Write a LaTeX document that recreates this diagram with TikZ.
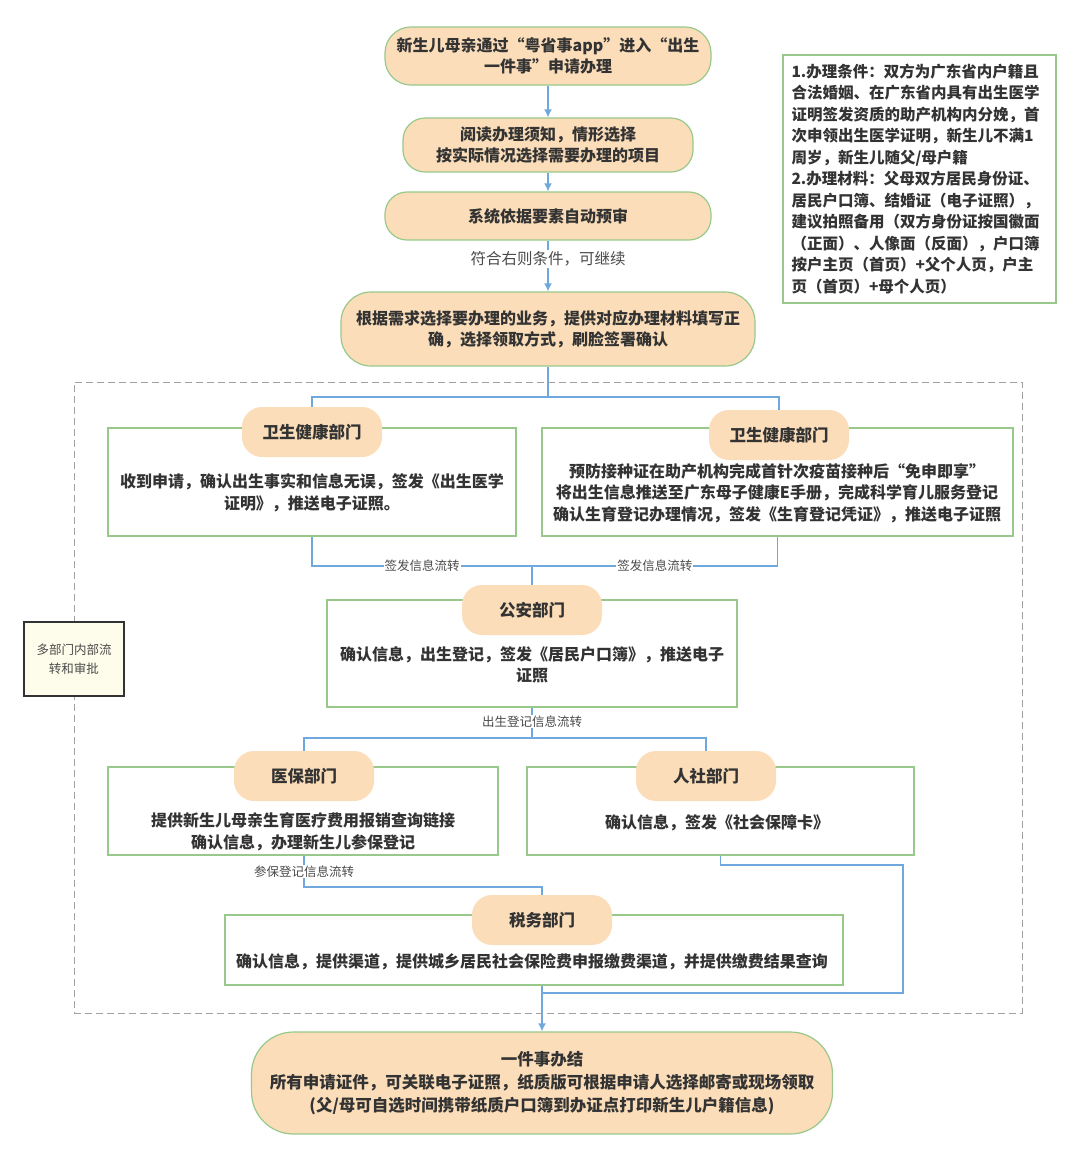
\documentclass[tikz,border=0pt]{standalone}
\usepackage{fontspec}
\setmainfont{Noto Sans CJK SC}
\usepackage{xcolor}
\usepackage{tikz}
\usetikzlibrary{arrows.meta}
\usetikzlibrary{positioning}
\pgfdeclarelayer{bg}
\pgfsetlayers{bg,main}

\definecolor{peach}{HTML}{FBDDB9}
\definecolor{boxgreen}{HTML}{98C98A}
\definecolor{flowblue}{HTML}{6FA8DC}
\definecolor{dashgray}{HTML}{A0A0A0}
\definecolor{txtgray}{HTML}{333333}
\definecolor{lblgray}{HTML}{4A4A4A}
\definecolor{sidecream}{HTML}{FEFDEB}

\tikzset{
	stepbox/.style={draw=boxgreen, line width=1.2pt, fill=peach, rounded corners=22pt, align=center, inner sep=0pt, text=txtgray, font=\bfseries\fontsize{16}{21}\selectfont},
	deptbox/.style={draw=boxgreen, line width=1.5pt, fill=white, inner sep=0pt},
	depttext/.style={align=center, inner sep=0pt, text=txtgray, font=\bfseries\fontsize{16}{21.5}\selectfont},
	pill/.style={fill=peach, rounded corners=20pt, minimum width=140pt, minimum height=50pt, inner sep=0pt, text=txtgray, font=\bfseries\fontsize{16.5}{20}\selectfont},
	flow/.style={draw=flowblue, line width=1.5pt, -{Latex[length=8pt,width=8pt]}},
	link/.style={draw=flowblue, line width=1.5pt},
	flowlbl/.style={fill=white, inner sep=1pt, text=lblgray, font=\fontsize{12.5}{14}\selectfont}
}

\begin{document}
\begin{tikzpicture}[x=1pt, y=-1pt]
	\useasboundingbox (0,0) rectangle (1080,1160);

	% application steps
	\node[stepbox, minimum width=326pt, minimum height=58pt, rounded corners=26pt] (apply) at (548,56) {新生儿母亲通过“粤省事app”进入“出生\\一件事”申请办理};
	\node[stepbox, minimum width=290pt, minimum height=54pt] (notice) at (548,145) {阅读办理须知，情形选择\\按实际情况选择需要办理的项目};
	\node[stepbox, minimum width=326pt, minimum height=48pt] (precheck) at (548,216) {系统依据要素自动预审};
	\node[stepbox, minimum width=414pt, minimum height=74pt, rounded corners=30pt] (choose) at (548,329) {根据需求选择要办理的业务，提供对应办理材料填写正\\确，选择领取方式，刷脸签署确认};

	% conditions
	\node[draw=boxgreen, line width=1.5pt, fill=white, minimum width=273pt, minimum height=248pt, text width=256pt, align=left, inner sep=0pt, text=txtgray, font=\bfseries\fontsize{15.5}{21.5}\selectfont] (cond) at (919.5,179) {1.办理条件：双方为广东省内户籍且\\合法婚姻、在广东省内具有出生医学\\证明签发资质的助产机构内分娩，首\\次申领出生医学证明，新生儿不满1\\周岁，新生儿随父/母户籍\\2.办理材料：父母双方居民身份证、\\居民户口簿、结婚证（电子证照），\\建议拍照备用（双方身份证按国徽面\\（正面）、人像面（反面），户口簿\\按户主页（首页）+父个人页，户主\\页（首页）+母个人页）};

	% departments
	\node[draw=dashgray, dash pattern=on 7pt off 4pt, line width=1pt, minimum width=948pt, minimum height=631pt, inner sep=0pt] (grp) at (548,697.5) {};
	\node[draw=txtgray, line width=1.5pt, fill=sidecream, minimum width=100pt, minimum height=74pt, align=center, inner sep=0pt, text=lblgray, font=\fontsize{12.5}{19}\selectfont] (inner) at (74,659) {多部门内部流\\转和审批};

	\node[deptbox, minimum width=408pt, minimum height=108pt] (wj1) at (312,482) {};
	\node[deptbox, minimum width=471pt, minimum height=108pt] (wj2) at (777.5,482) {};
	\node[deptbox, minimum width=410pt, minimum height=107pt] (ga) at (532,653.5) {};
	\node[deptbox, minimum width=390pt, minimum height=88pt] (yb) at (303,811) {};
	\node[deptbox, minimum width=387pt, minimum height=88pt] (rs) at (720.5,811) {};
	\node[deptbox, minimum width=618pt, minimum height=70pt] (sw) at (534,950) {};

	\node[depttext] (wj1txt) at (312,493) {收到申请，确认出生事实和信息无误，签发《出生医学\\证明》，推送电子证照。};
	\node[depttext] (wj2txt) at (777,493) {预防接种证在助产机构完成首针次疫苗接种后“免申即享”\\将出生信息推送至广东母子健康E手册，完成科学育儿服务登记\\确认生育登记办理情况，签发《生育登记凭证》，推送电子证照};
	\node[depttext] (gatxt) at (532,665) {确认信息，出生登记，签发《居民户口簿》，推送电子\\证照};
	\node[depttext] (ybtxt) at (303,832) {提供新生儿母亲生育医疗费用报销查询链接\\确认信息，办理新生儿参保登记};
	\node[depttext] (rstxt) at (717,823) {确认信息，签发《社会保障卡》};
	\node[depttext] (swtxt) at (532,962) {确认信息，提供渠道，提供城乡居民社会保险费申报缴费渠道，并提供缴费结果查询};

	\foreach \nm/\x/\y/\txt in {wj1t/312/432/卫生健康部门, wj2t/779/435/卫生健康部门, gat/532/610/公安部门, ybt/304/776/医保部门, rst/706/776/人社部门, swt/542/920/税务部门}
	{
		\node[pill] (\nm) at (\x,\y) {\txt};
	}

	\node[stepbox, minimum width=581pt, minimum height=102pt, rounded corners=42pt, font=\bfseries\fontsize{16.5}{23}\selectfont] (done) at (542,1083) {一件事办结\\所有申请证件，可关联电子证照，纸质版可根据申请人选择邮寄或现场领取\\(父/母可自选时间携带纸质户口簿到办证点打印新生儿户籍信息)};

	% connectors
	\coordinate (split1) at (548,397);
	\coordinate (merge1) at (532,566);
	\coordinate (split2) at (532,738);
	\coordinate (bend1) at (304,887);
	\coordinate (bend2) at (903,865);
	\coordinate (join) at (542,993);
	\begin{pgfonlayer}{bg}
		\fill[white] (0,0) rectangle (1080,1160);
		\draw[flow] (apply) -- (notice);
		\draw[flow] (notice) -- (precheck);
		\draw[flow] (precheck) -- node[pos=0.36, fill=white, inner sep=2pt, text=lblgray, font=\fontsize{15.5}{18}\selectfont] (passlbl) {符合右则条件，可继续} (choose);
		\draw[link] (choose) -- (split1);
		\draw[link] (split1) -| (wj1t);
		\draw[link] (split1) -| (wj2t);
		\draw[link] (wj1) |- node[pos=0.75, flowlbl] (signlbl1) {签发信息流转} (merge1);
		\draw[link] (wj2) |- node[pos=0.75, flowlbl] (signlbl2) {签发信息流转} (merge1);
		\draw[link] (merge1) -- (gat);
		\draw[link] (ga) -- node[pos=0.45, flowlbl] (bornlbl) {出生登记信息流转} (split2);
		\draw[link] (split2) -| (ybt);
		\draw[link] (split2) -| (rst);
		\draw[link] (yb.south -| ybt) -- node[pos=0.5, flowlbl] (insurelbl) {参保登记信息流转} (bend1) -| (swt);
		\draw[link] (rs) |- (bend2) |- (join);
		\draw[flow] (sw.south -| swt) -- (done);
	\end{pgfonlayer}
\end{tikzpicture}
\end{document}
